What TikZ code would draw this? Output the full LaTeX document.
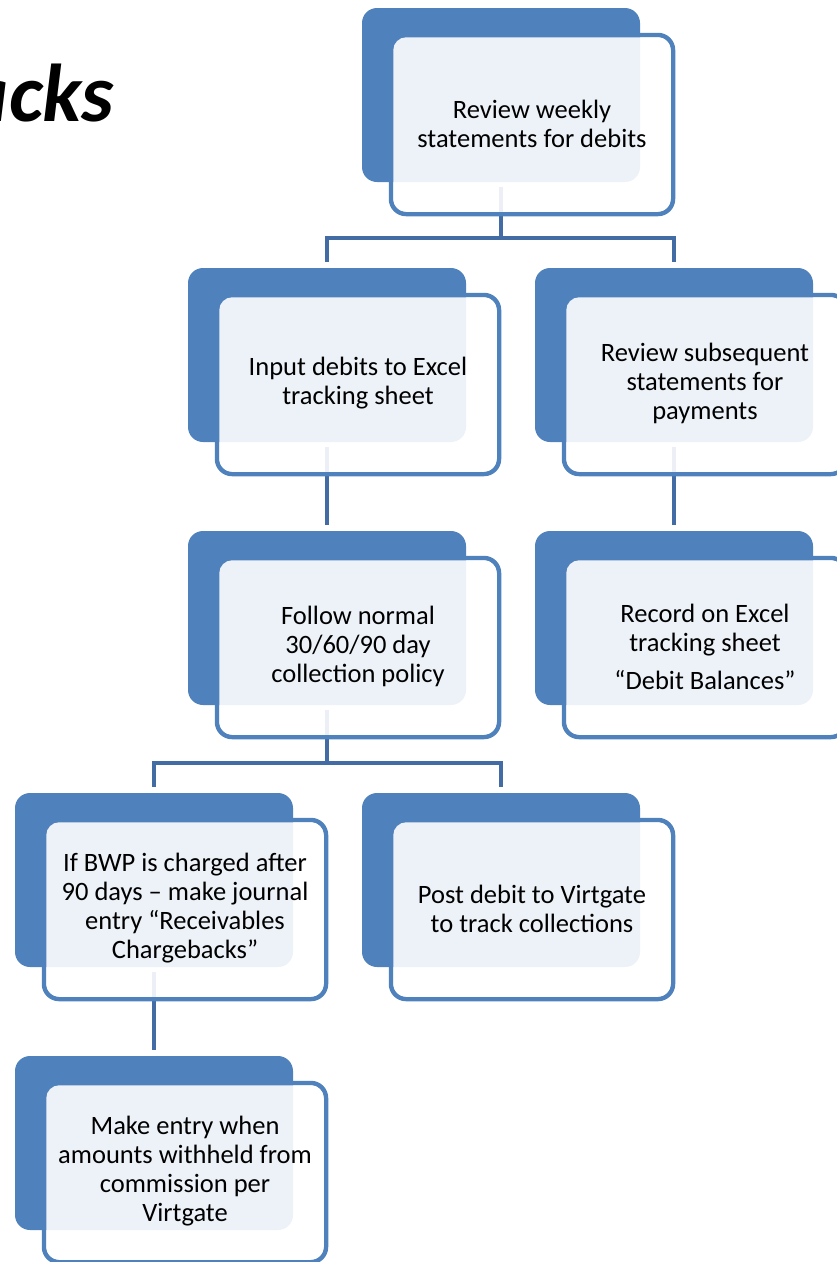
\documentclass[tikz,border=0pt]{standalone}
\usepackage{fontspec}
\setmainfont{Carlito}
\usetikzlibrary{calc}
\definecolor{acc}{RGB}{79,129,189}
\definecolor{connc}{RGB}{68,108,164}
\pgfdeclarelayer{bg}
\pgfsetlayers{bg,main}
\tikzset{
  backbox/.style={rectangle, minimum width=278pt, minimum height=174pt, inner sep=0pt, rounded corners=15pt, fill=acc},
  frontbox/.style={rectangle, minimum width=282pt, minimum height=179pt, inner sep=0pt, rounded corners=15pt, draw=acc, line width=4.5pt},
  overlaybox/.style={rectangle, minimum width=277.5pt, minimum height=174.5pt, inner sep=0pt, rounded corners=13pt, fill=white, fill opacity=0.9},
  txt/.style={align=center, inner sep=0pt, text=black, font=\fontsize{26.5}{29}\selectfont},
  conn/.style={draw=connc, line width=4.5pt},
}
\newcommand\smartbox[4]{%
  \node[frontbox] (#1f) at (#2+170,#3+116.5) {};
  \node[backbox] (#1) at (#2+139,#3+87) {};
  \node[overlaybox] (#1o) at (#1f) {};
  \node[txt] (#1t) at ([yshift=1pt]#1f.center) {#4};
}
\begin{document}
\begin{tikzpicture}[x=1pt,y=-1pt]
\useasboundingbox (0,0) rectangle (837,1262);
\clip (0,0) rectangle (837,1262);
\node[anchor=base east, inner sep=0pt, font=\fontsize{82}{96}\selectfont\bfseries\itshape] (title) at (114,121) {Chargebacks};
\smartbox{a}{362}{8}{Review weekly\\statements for debits}
\smartbox{b}{188}{268}{Input debits to Excel\\tracking sheet}
\smartbox{c}{535}{268}{Review subsequent\\statements for\\payments}
\smartbox{d}{188}{531}{Follow normal\\30/60/90 day\\collection policy}
\smartbox{e}{535}{531}{Record on Excel\\tracking sheet\\[9pt]“Debit Balances”}
\smartbox{f}{15}{793}{If BWP is charged after\\90 days – make journal\\entry “Receivables\\Chargebacks”}
\smartbox{g}{362}{793}{Post debit to Virtgate\\to track collections}
\smartbox{h}{15}{1056}{Make entry when\\amounts withheld from\\commission per\\Virtgate}
\begin{pgfonlayer}{bg}
\draw[conn] ([yshift=-5pt]a.south) -- ([yshift=-56pt]a.south) -| ([yshift=6pt]b.north);
\draw[conn] ([yshift=-56pt]a.south) -| ([yshift=6pt]c.north);
\draw[conn] ([yshift=-5pt]b.south) -- ([yshift=6pt]d.north);
\draw[conn] ([yshift=-5pt]c.south) -- ([yshift=6pt]e.north);
\draw[conn] ([yshift=-5pt]d.south) -- ([yshift=-58pt]d.south) -| ([yshift=6pt]f.north);
\draw[conn] ([yshift=-58pt]d.south) -| ([yshift=6pt]g.north);
\draw[conn] ([yshift=-5pt]f.south) -- ([yshift=6pt]h.north);
\end{pgfonlayer}
\end{tikzpicture}
\end{document}
